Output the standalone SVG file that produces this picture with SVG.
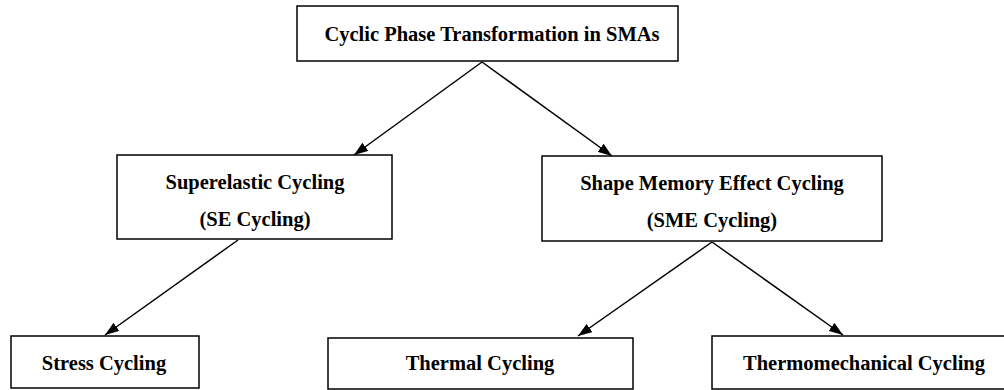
<svg xmlns="http://www.w3.org/2000/svg" width="1004" height="390" viewBox="0 0 1004 390">
<defs>
<marker id="ah" viewBox="0 0 14 10" refX="14" refY="5" markerWidth="14" markerHeight="10" markerUnits="userSpaceOnUse" orient="auto">
<path d="M0,0 L14,5 L0,10 Z" fill="#000"/>
</marker>
<style>
.box{fill:#fff;stroke:#000;stroke-width:1.5}
.t{font-family:"Liberation Serif","Times New Roman",serif;font-weight:bold;font-size:20.5px;fill:#000;text-anchor:middle}
.c{stroke:#000;stroke-width:1.5;fill:none;marker-end:url(#ah)}
</style>
</defs>
<rect width="1004" height="390" fill="#fff"/>
<g id="connectors">
<line class="c" x1="482" y1="62" x2="354" y2="155"/>
<line class="c" x1="482" y1="62" x2="612" y2="156"/>
<line class="c" x1="238" y1="240" x2="105" y2="335"/>
<line class="c" x1="712" y1="242" x2="578" y2="336"/>
<line class="c" x1="712" y1="242" x2="843" y2="335"/>
</g>
<g id="root">
<rect class="box" x="297" y="6" width="381" height="55"/>
<text class="t" x="492" y="41">Cyclic Phase Transformation in SMAs</text>
</g>
<g id="se">
<rect class="box" x="117" y="155" width="275" height="84"/>
<text class="t" x="255" y="189">Superelastic Cycling</text>
<text class="t" x="255" y="226">(SE Cycling)</text>
</g>
<g id="sme">
<rect class="box" x="542" y="156" width="340" height="85"/>
<text class="t" x="712" y="190">Shape Memory Effect Cycling</text>
<text class="t" x="712" y="227">(SME Cycling)</text>
</g>
<g id="stress">
<rect class="box" x="11" y="336" width="188" height="52"/>
<text class="t" x="104" y="370">Stress Cycling</text>
</g>
<g id="thermal">
<rect class="box" x="328" y="338" width="305" height="51"/>
<text class="t" x="480" y="370">Thermal Cycling</text>
</g>
<g id="thermomech">
<rect class="box" x="712" y="336" width="296" height="53"/>
<text class="t" x="864" y="370">Thermomechanical Cycling</text>
</g>
</svg>
